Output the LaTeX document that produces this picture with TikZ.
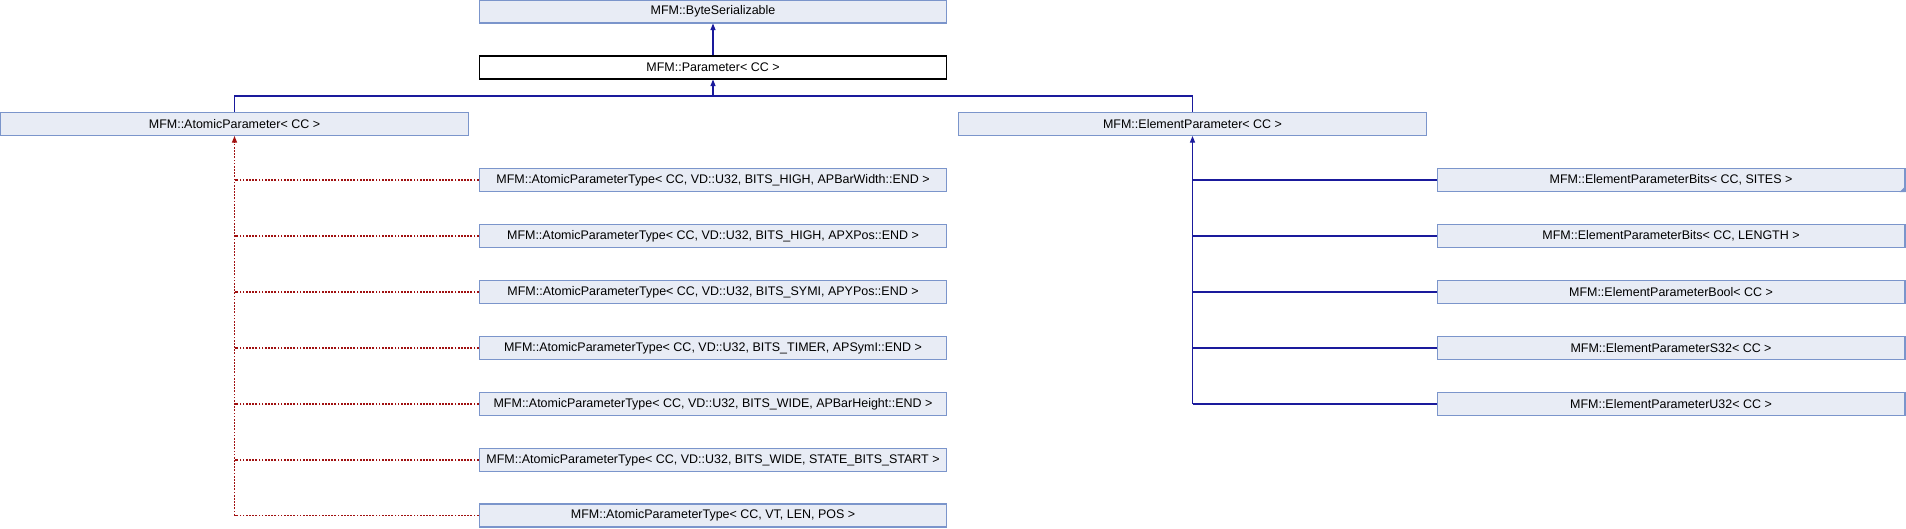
\documentclass[tikz,border=0pt]{standalone}
\usepackage{fontspec}
\setmainfont{Liberation Sans}
\usetikzlibrary{arrows.meta}
\definecolor{boxfill}{HTML}{E8ECF5}
\definecolor{boxline}{HTML}{7B95CB}
\definecolor{publine}{HTML}{1A1A9C}
\definecolor{tmplline}{HTML}{A01010}
\begin{document}
\begin{tikzpicture}[
x=0.02cm, y=-0.02cm,
every node/.style = {shape=rectangle, align=center, inner sep=0pt,
  minimum width=9.36cm, minimum height=0.46cm,
  font=\fontsize{7.1}{8}\selectfont},
cls/.style = {draw=boxline, fill=boxfill, line width=0.6pt},
cur/.style = {draw=black, fill=white, line width=0.6pt},
pub/.style = {draw=publine, line width=0.6pt},
tmpl/.style = {draw=tmplline, line width=0.6pt, dash pattern=on 1pt off 0.8pt},
tip/.style = {-{Triangle[width=0.1cm,length=0.13cm]}},
]
  \useasboundingbox (0,0) rectangle (1906,528);
  \node[cls] (bser) at (713,11.5) {MFM::ByteSerializable};
  \node[cur] (param) at (713,67.5) {MFM::Parameter< CC >};
  \node[cls] (apar) at (234.5,124) {MFM::AtomicParameter< CC >};
  \node[cls] (epar) at (1192.5,124) {MFM::ElementParameter< CC >};
  \coordinate (bus) at (713,96);
  \draw[pub,tip] (param.north) -- (bser.south);
  \draw[pub,tip] (bus) -- (param.south);
  \draw[pub] (apar.north) |- (epar.north |- bus) -- (epar.north);
  % atomic parameter types
  \foreach \n/\y/\txt in {
    1/180/{MFM::AtomicParameterType< CC, VD::U32, BITS\_HIGH, APBarWidth::END >},
    2/236/{MFM::AtomicParameterType< CC, VD::U32, BITS\_HIGH, APXPos::END >},
    3/292/{MFM::AtomicParameterType< CC, VD::U32, BITS\_SYMI, APYPos::END >},
    4/348/{MFM::AtomicParameterType< CC, VD::U32, BITS\_TIMER, APSymI::END >},
    5/404/{MFM::AtomicParameterType< CC, VD::U32, BITS\_WIDE, APBarHeight::END >},
    6/460/{MFM::AtomicParameterType< CC, VD::U32, BITS\_WIDE, STATE\_BITS\_START >},
    7/515.5/{MFM::AtomicParameterType< CC, VT, LEN, POS >}}
  {
    \node[cls] (atype\n) at (713,\y) {\txt};
    \draw[tmpl] (atype\n.west) -- (apar.south |- atype\n.west);
  }
  \draw[tmpl,tip] (apar.south |- atype7.west) -- (apar.south);
  % element parameter types
  \foreach \n/\y/\txt in {
    1/180/{MFM::ElementParameterBits< CC, SITES >},
    2/236/{MFM::ElementParameterBits< CC, LENGTH >},
    3/292/{MFM::ElementParameterBool< CC >},
    4/348/{MFM::ElementParameterS32< CC >},
    5/404/{MFM::ElementParameterU32< CC >}}
  {
    \node[cls] (etype\n) at (1671,\y) {\txt};
    \draw[pub] (etype\n.west) -- (epar.south |- etype\n.west);
  }
  \draw[pub,tip] (epar.south |- etype5.west) -- (epar.south);
  \fill[boxline] (etype1.south east) -- ++(-6,0) -- ++(6,-6) -- cycle;
\end{tikzpicture}
\end{document}
